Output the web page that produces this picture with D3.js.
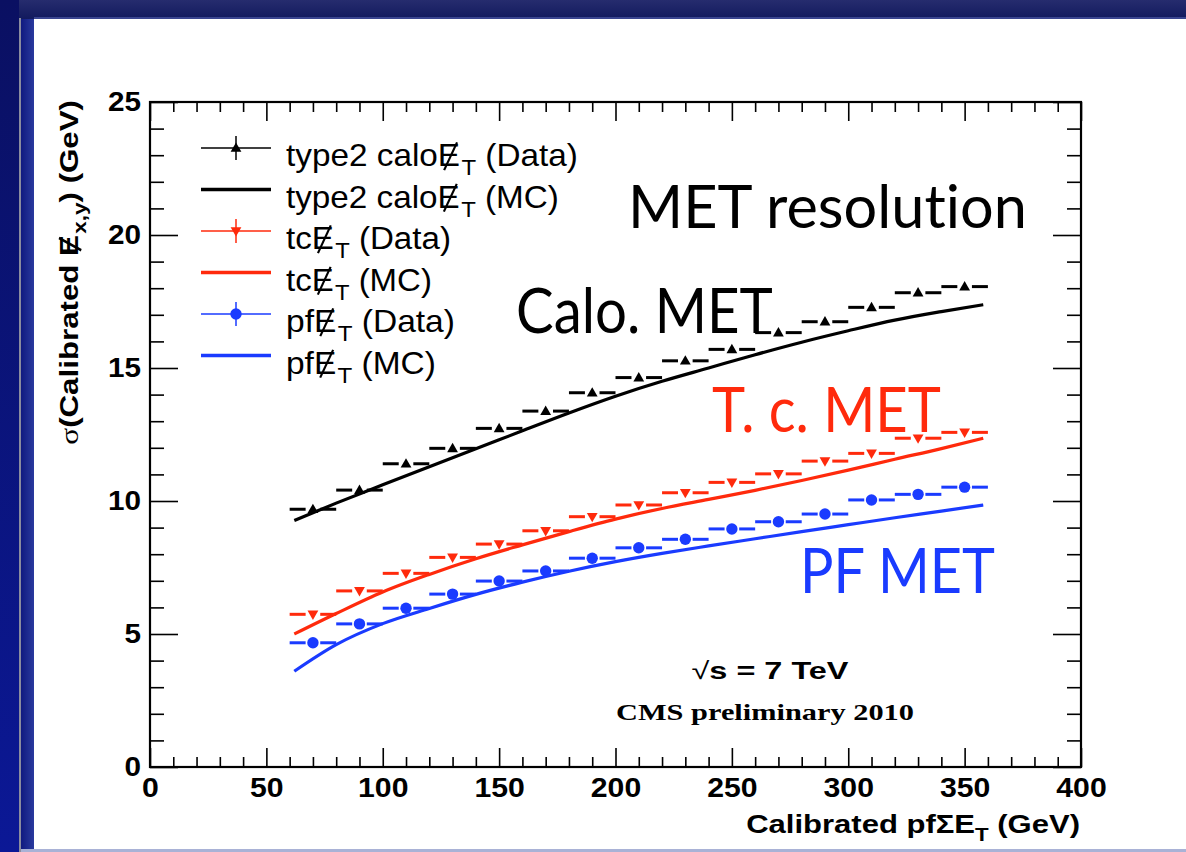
<!DOCTYPE html>
<html><head><meta charset="utf-8">
<script src="https://cdn.jsdelivr.net/npm/d3@7"></script>
<style>body{margin:0;background:#fff}svg{display:block}text{font-variant-ligatures:none;font-feature-settings:"liga" 0,"clig" 0}</style>
</head><body><svg id="c" width="1186" height="852"></svg>
<script>
// ---------------- data ----------------
const binCenters = [70, 90, 110, 130, 150, 170, 190, 210, 230, 250, 270, 290, 310, 330, 350];
const binHalfWidth = 10;
const caloData = [9.69, 10.41, 11.40, 11.98, 12.73, 13.38, 14.07, 14.64, 15.27, 15.70, 16.33, 16.74, 17.28, 17.83, 18.06];
const tcData   = [5.74, 6.62, 7.28, 7.88, 8.38, 8.88, 9.41, 9.85, 10.31, 10.70, 11.02, 11.50, 11.79, 12.36, 12.58];
const pfData   = [4.67, 5.38, 5.97, 6.50, 6.99, 7.37, 7.85, 8.24, 8.56, 8.95, 9.22, 9.51, 10.04, 10.25, 10.52];
const mcX      = [62, 80, 100, 120, 140, 160, 180, 200, 220, 240, 260, 280, 300, 320, 340, 358];
const caloMC   = [9.27, 9.92, 10.61, 11.29, 11.96, 12.64, 13.31, 13.94, 14.50, 15.00, 15.50, 15.97, 16.40, 16.80, 17.12, 17.38];
const tcMC     = [5.00, 5.77, 6.58, 7.24, 7.83, 8.35, 8.85, 9.32, 9.72, 10.06, 10.40, 10.77, 11.16, 11.57, 11.97, 12.36];
const pfMC     = [3.60, 4.60, 5.39, 5.96, 6.49, 6.95, 7.36, 7.72, 8.03, 8.31, 8.58, 8.85, 9.11, 9.37, 9.62, 9.85];
const xMajorTicks = [0, 50, 100, 150, 200, 250, 300, 350, 400];
const yMajorTicks = [0, 5, 10, 15, 20, 25];
const xDomain = [0, 400];
const yDomain = [0, 25];

const RED = "#ff2a0c", BLUE = "#1a3bff", BLACK = "#000";
const SANS = "'Liberation Sans', Arial, Helvetica, sans-serif";
const SERIF = "'Liberation Serif', 'Times New Roman', serif";
const GILL = "Lato, 'Open Sans', sans-serif";

const svg = d3.select("#c");

// ---------------- slide background ----------------
const defs = svg.append("defs");
const gTop = defs.append("linearGradient").attr("id","gtop").attr("x1",0).attr("y1",0).attr("x2",0).attr("y2",1);
gTop.append("stop").attr("offset","0%").attr("stop-color","#262c6e");
gTop.append("stop").attr("offset","100%").attr("stop-color","#121a5e");
const gLeft = defs.append("linearGradient").attr("id","gleft").attr("x1",0).attr("y1",0).attr("x2",0).attr("y2",1);
gLeft.append("stop").attr("offset","0%").attr("stop-color","#0a1062");
gLeft.append("stop").attr("offset","100%").attr("stop-color","#0b1896");
const gLeft2 = defs.append("linearGradient").attr("id","gleft2").attr("x1",0).attr("y1",0).attr("x2",1).attr("y2",0);
gLeft2.append("stop").attr("offset","0%").attr("stop-color","#101a80");
gLeft2.append("stop").attr("offset","100%").attr("stop-color","#2a3a9e");

svg.append("rect").attr("width",1186).attr("height",852).attr("fill","#141b66");
svg.append("rect").attr("x",0).attr("y",0).attr("width",1186).attr("height",19).attr("fill","url(#gtop)");
svg.append("rect").attr("x",0).attr("y",0).attr("width",19).attr("height",852).attr("fill","url(#gleft)");
svg.append("rect").attr("x",19).attr("y",18).attr("width",2).attr("height",834).attr("fill","#8a8c9e");
svg.append("rect").attr("x",21).attr("y",19).attr("width",13).attr("height",833).attr("fill","url(#gleft2)");
svg.append("rect").attr("x",34).attr("y",17).attr("width",1152).attr("height",2).attr("fill","#3a4590");
svg.append("rect").attr("x",34).attr("y",19).attr("width",1152).attr("height",830).attr("fill","#ffffff");
svg.append("rect").attr("x",21).attr("y",849).attr("width",1165).attr("height",3).attr("fill","#a9b2d6");

// ---------------- scales ----------------
const X0 = 150, X1 = 1081, Y0 = 767, Y1 = 102;
const x = d3.scaleLinear().domain(xDomain).range([X0, X1]);
const y = d3.scaleLinear().domain(yDomain).range([Y0, Y1]);
const xMinor = x.ticks(40).filter(v => !xMajorTicks.includes(v));
const yMinor = y.ticks(25).filter(v => !yMajorTicks.includes(v));

// text helper: builds text then stretches it horizontally to a target width;
// slashed E glyphs (tspan.slE) receive a drawn slash stroke
function label(parent, px, py, opts, build) {
  const g = parent.append("g");
  const t = g.append("text")
    .attr("text-anchor", opts.anchor || "start")
    .attr("font-family", opts.family || SANS)
    .attr("font-size", opts.size)
    .attr("font-weight", opts.weight || "normal")
    .attr("fill", opts.fill || "#000");
  build(t);
  const w = t.node().getBBox().width;
  const sx = opts.width ? opts.width / w : (opts.sx || 1);
  t.selectAll("tspan.slE").each(function() {
    const s = opts.size;
    const n = this;
    // locate the glyph extent of the E character
    const idx = n.getStartPositionOfChar ? 0 : 0;
    const ext = n.getExtentOfChar(idx);
    const bx = ext.x, bw = ext.width;
    const base = 0; // text baseline is at y=0 in group coords
    g.append("line")
      .attr("x1", bx + 0.28 * bw).attr("y1", base + 0.13 * s)
      .attr("x2", bx + 0.86 * bw).attr("y2", base - 0.76 * s)
      .attr("stroke", opts.fill || "#000")
      .attr("stroke-width", (opts.weight === "bold" ? 0.085 : 0.065) * s);
  });
  g.attr("transform", `translate(${px},${py}) rotate(${opts.rotate || 0}) scale(${sx},1)`);
  return g;
}
function slashE(t, size, sub) {
  t.append("tspan").attr("class","slE").text("E");
  t.append("tspan").attr("dx", 0.04 * size).attr("dy", 0.3 * size).attr("font-size", 0.72 * size).text(sub);
}

const plot = svg.append("g");

// ---------------- MC curves ----------------
const line = d3.line().x((d, i) => x(mcX[i])).y(d => y(d)).curve(d3.curveMonotoneX);
[[caloMC, BLACK], [tcMC, RED], [pfMC, BLUE]].forEach(([arr, col]) => {
  plot.append("path").attr("d", line(arr)).attr("fill","none").attr("stroke", col).attr("stroke-width", 3.2);
});

// ---------------- data points ----------------
const triUp = "M0,-5.6L5.4,3.8L-5.4,3.8Z";
const triDown = "M0,5.6L5.4,-3.8L-5.4,-3.8Z";
function drawData(arr, col, marker) {
  const g = plot.append("g");
  const gap = 7.3;
  g.selectAll("line.l").data(arr).join("line")
    .attr("x1", (d, i) => x(binCenters[i] - binHalfWidth)).attr("x2", (d, i) => x(binCenters[i]) - gap)
    .attr("y1", d => y(d)).attr("y2", d => y(d)).attr("stroke", col).attr("stroke-width", 3);
  g.selectAll("line.r").data(arr).join("line")
    .attr("x1", (d, i) => x(binCenters[i]) + gap).attr("x2", (d, i) => x(binCenters[i] + binHalfWidth))
    .attr("y1", d => y(d)).attr("y2", d => y(d)).attr("stroke", col).attr("stroke-width", 3);
  if (marker === "circle") {
    g.selectAll("circle").data(arr).join("circle")
      .attr("cx", (d, i) => x(binCenters[i])).attr("cy", d => y(d)).attr("r", 5.7).attr("fill", col);
  } else {
    g.selectAll("path").data(arr).join("path")
      .attr("transform", (d, i) => `translate(${x(binCenters[i])},${y(d)})`)
      .attr("d", marker).attr("fill", col);
  }
}
drawData(caloData, BLACK, triUp);
drawData(tcData, RED, triDown);
drawData(pfData, BLUE, "circle");

// ---------------- axes ----------------
function styleAxis(g) {
  g.select(".domain").remove();
  g.selectAll(".tick line").attr("stroke", "#000").attr("stroke-width", 1.6);
}
const axFont = g => g.selectAll("text").attr("font-family", SANS).attr("font-size", 27).attr("font-weight","bold").attr("fill","#000");
plot.append("g").attr("transform", `translate(0,${Y0})`)
  .call(d3.axisBottom(x).tickValues(xMajorTicks).tickSizeInner(-19).tickSizeOuter(0).tickPadding(11).tickFormat(d3.format("d")))
  .call(styleAxis).call(axFont)
  .call(g => g.selectAll("text").attr("transform","scale(1.12,1)"));
plot.append("g").attr("transform", `translate(0,${Y0})`)
  .call(d3.axisBottom(x).tickValues(xMinor).tickSize(-10).tickFormat("")).call(styleAxis);
plot.append("g").attr("transform", `translate(0,${Y1})`)
  .call(d3.axisTop(x).tickValues(xMajorTicks).tickSize(-19).tickFormat("")).call(styleAxis);
plot.append("g").attr("transform", `translate(0,${Y1})`)
  .call(d3.axisTop(x).tickValues(xMinor).tickSize(-10).tickFormat("")).call(styleAxis);
plot.append("g").attr("transform", `translate(${X0},0)`)
  .call(d3.axisLeft(y).tickValues(yMajorTicks).tickSizeInner(-28).tickSizeOuter(0).tickPadding(9).tickFormat(d3.format("d")))
  .call(styleAxis).call(axFont)
  .call(g => g.selectAll("text").attr("x", 0).attr("transform","translate(-9,0) scale(1.1,1)"));
plot.append("g").attr("transform", `translate(${X0},0)`)
  .call(d3.axisLeft(y).tickValues(yMinor).tickSize(-14).tickFormat("")).call(styleAxis);
plot.append("g").attr("transform", `translate(${X1},0)`)
  .call(d3.axisRight(y).tickValues(yMajorTicks).tickSize(-28).tickFormat("")).call(styleAxis);
plot.append("g").attr("transform", `translate(${X1},0)`)
  .call(d3.axisRight(y).tickValues(yMinor).tickSize(-14).tickFormat("")).call(styleAxis);
plot.append("rect").attr("x", X0).attr("y", Y1).attr("width", X1 - X0).attr("height", Y0 - Y1)
  .attr("fill","none").attr("stroke","#000").attr("stroke-width", 2.2);

// ---------------- axis titles ----------------
label(svg, 1080, 833, {anchor:"end", size:26, weight:"bold", width:334}, t => {
  t.append("tspan").text("Calibrated pf\u03A3E");
  t.append("tspan").attr("dy", 0.3*26).attr("font-size", 0.72*26).text("T");
  t.append("tspan").attr("dy", -0.3*26).text(" (GeV)");
});
label(svg, 78, 100, {anchor:"end", size:25, weight:"bold", width:345, rotate:-90}, t => {
  t.append("tspan").attr("font-family", SERIF).attr("font-weight","normal").text("\u03C3");
  t.append("tspan").text("(Calibrated ");
  slashE(t, 25, "x,y");
  t.append("tspan").attr("dy", -0.3*25).text(") (GeV)");
});

// ---------------- legend ----------------
const legendRows = [
  {name:"type2 calo", kind:"(Data)", col:BLACK, marker:triUp, w:292},
  {name:"type2 calo", kind:"(MC)", col:BLACK, marker:null, w:273},
  {name:"tc", kind:"(Data)", col:RED, marker:triDown, w:165},
  {name:"tc", kind:"(MC)", col:RED, marker:null, w:146},
  {name:"pf", kind:"(Data)", col:BLUE, marker:"circle", w:169},
  {name:"pf", kind:"(MC)", col:BLUE, marker:null, w:150}
];
const leg = svg.append("g");
legendRows.forEach((r, i) => {
  const ly = 148 + 41.5 * i;
  leg.append("line").attr("x1",201).attr("x2",271).attr("y1",ly).attr("y2",ly)
    .attr("stroke", r.col).attr("stroke-width", r.marker ? 1.5 : 3.4);
  if (r.marker) {
    leg.append("line").attr("x1",236).attr("x2",236).attr("y1",ly-12).attr("y2",ly+12)
      .attr("stroke", r.col).attr("stroke-width", 1.5);
    if (r.marker === "circle") leg.append("circle").attr("cx",236).attr("cy",ly).attr("r",5.7).attr("fill",r.col);
    else leg.append("path").attr("transform",`translate(236,${ly})`).attr("d", r.marker).attr("fill", r.col);
  }
  label(leg, 286, ly + 18, {size:31, width:r.w}, t => {
    t.append("tspan").text(r.name);
    slashE(t, 31, "T");
    t.append("tspan").attr("dy", -0.3*31).text(" " + r.kind);
  });
});

// ---------------- annotations ----------------
label(svg, 628, 228, {size:60, family:GILL, width:399}, t => t.text("MET resolution"));
label(svg, 516, 333, {size:62, family:GILL, width:257}, t => t.text("Calo. MET"));
label(svg, 712, 432, {size:62, family:GILL, width:229, fill:RED}, t => t.text("T. c. MET"));
label(svg, 800, 593, {size:62, family:GILL, width:195, fill:BLUE}, t => t.text("PF MET"));

label(svg, 770, 679, {anchor:"middle", size:24, weight:"bold", width:157}, t => {
  t.append("tspan").attr("font-weight","normal").text("\u221A");
  t.append("tspan").text("s = 7 TeV");
});
label(svg, 765, 720, {anchor:"middle", size:24, weight:"bold", family:SERIF, width:298}, t => t.text("CMS preliminary 2010"));
</script></body></html>
